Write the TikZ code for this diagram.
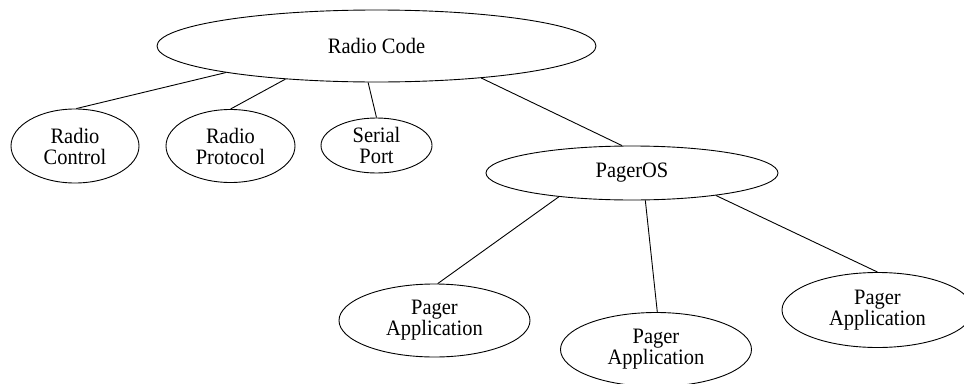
\documentclass[tikz,border=0pt]{standalone}
\usepackage{fontspec}
\setmainfont{Liberation Serif}[FakeStretch=0.93]
\usetikzlibrary{shapes.geometric}
\newcommand{\labfont}{\fontsize{22}{21}\selectfont}
\tikzset{
  oval/.style={draw, ellipse, inner sep=0pt, line width=0.9pt, align=center, font=\labfont},
  edge/.style={line width=0.9pt}
}
\begin{document}
\begin{tikzpicture}[x=1pt,y=-1pt]
\useasboundingbox[fill=white] (0,0) rectangle (964,383);
\node[oval, minimum width=439pt, minimum height=72pt] (root) at (376.5,46) {Radio Code};
\node[oval, minimum width=128pt, minimum height=74pt] (ctrl) at (75,146) {Radio\\Control};
\node[oval, minimum width=129pt, minimum height=73pt] (prot) at (230.5,146) {Radio\\Protocol};
\node[oval, inner ysep=-4pt, minimum width=111pt, minimum height=55pt] (ser) at (376.5,145.5) {Serial\\Port};
\node[oval, minimum width=292pt, minimum height=54pt] (os) at (632,173) {PagerOS};
\node[oval, minimum width=191pt, minimum height=73pt] (a1) at (434.5,320.5) {Pager\\Application};
\node[oval, minimum width=191pt, minimum height=74pt] (a2) at (656,349.5) {Pager\\Application};
\node[oval, minimum width=191pt, minimum height=75pt] (a3) at (877.5,310) {Pager\\Application};
\draw[edge] (root.190.4) -- (ctrl.88);
\draw[edge] (root.200.5) -- (prot.90);
\draw[edge] (root.257) -- (ser.90);
\draw[edge] (root.343.6) -- (os.110.3);
\draw[edge] (os.198.2) -- (a1.85);
\draw[edge] (os.296.6) -- (a2.88);
\draw[edge] (os.345.7) -- (a3.90);
\end{tikzpicture}
\end{document}
